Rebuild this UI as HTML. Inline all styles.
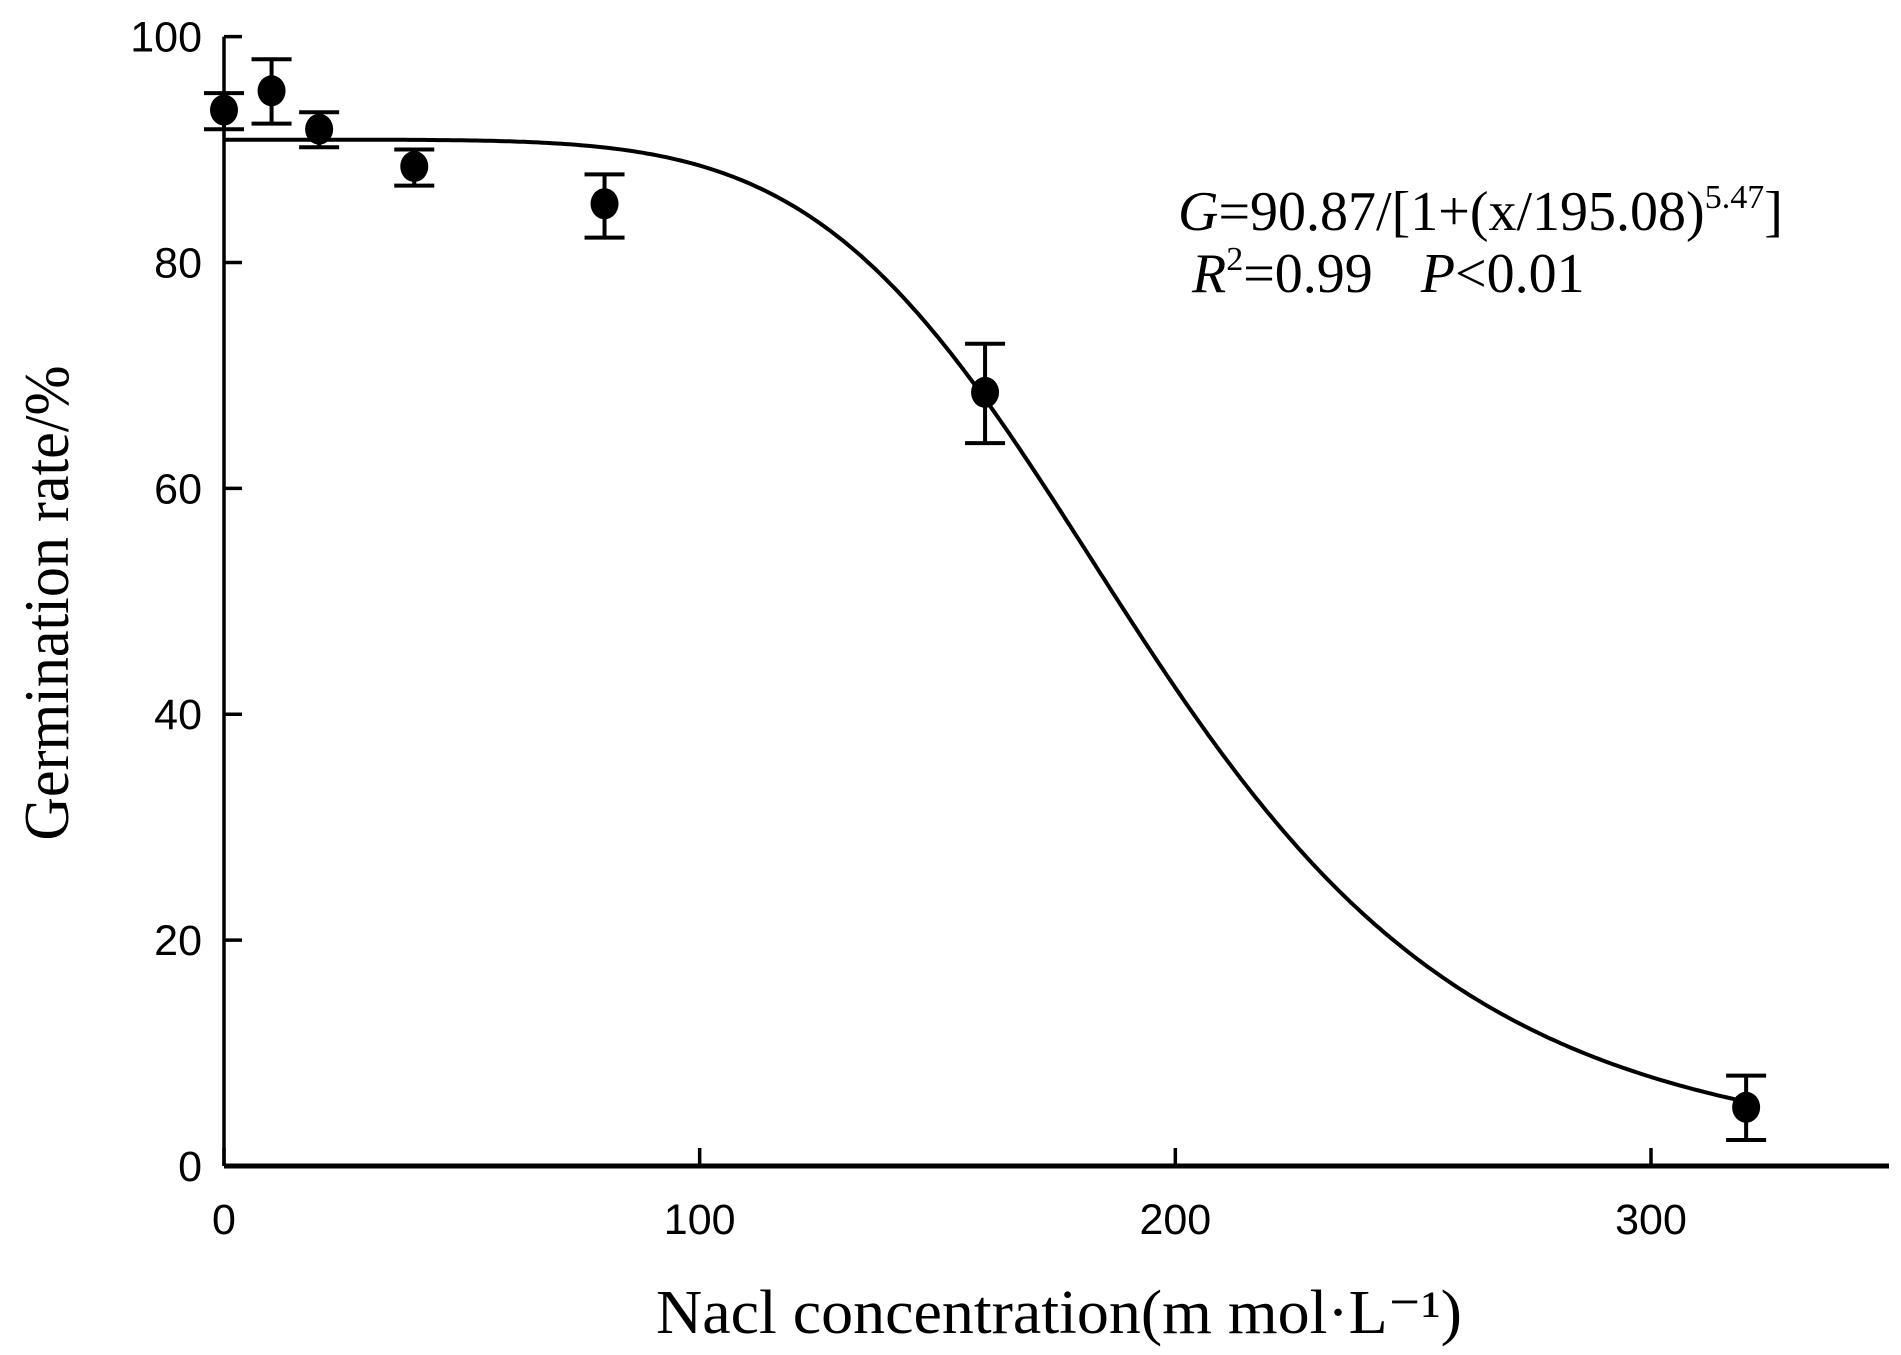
<!DOCTYPE html>
<html><head><meta charset="utf-8"><title>Germination rate vs NaCl</title>
<style>html,body{margin:0;padding:0;background:#fff;}svg{display:block;}</style></head>
<body>
<svg id="chart" width="1901" height="1355" viewBox="0 0 1901 1355" xmlns="http://www.w3.org/2000/svg">
<g id="axes"></g>
<g id="marks"></g>
<text x="1178" y="230" font-family="Liberation Serif, serif" font-size="56" fill="#000"><tspan font-style="italic">G</tspan>=90.87/[1+(x/195.08)<tspan dy="-22" font-size="34">5.47</tspan><tspan dy="22">]</tspan></text>
<text x="1192" y="292" font-family="Liberation Serif, serif" font-size="56" fill="#000"><tspan font-style="italic">R</tspan><tspan dy="-22" font-size="34">2</tspan><tspan dy="22">=0.99</tspan><tspan dx="48" font-style="italic">P</tspan>&lt;0.01</text>
<text x="656" y="1333" textLength="806" lengthAdjust="spacingAndGlyphs" font-family="Liberation Serif, serif" font-size="62" fill="#000">Nacl concentration(m mol·L⁻¹)</text>
<text transform="translate(68,603) rotate(-90)" text-anchor="middle" textLength="475" lengthAdjust="spacingAndGlyphs" font-family="Liberation Serif, serif" font-size="64" fill="#000">Germination rate/%</text>
</svg>
<script>
const xCats = [0, 10, 20, 40, 80, 160, 320];
const yMeans = [93.5, 95.2, 91.8, 88.5, 85.2, 68.5, 5.2];
const yLow = [91.8, 92.3, 90.2, 86.8, 82.2, 64.0, 2.3];
const yHigh = [95.0, 98.0, 93.3, 90.0, 87.8, 72.8, 8.0];
const xTicks = [0, 100, 200, 300];
const yTicks = [0, 20, 40, 60, 80, 100];
const fitA = 90.87, fitX0 = 195.08, fitB = 5.47;

const NS = 'http://www.w3.org/2000/svg';
const X0 = 224, XPX = (1651 - 224) / 300;
const Y0 = 1166, YPX = (1166 - 36.6) / 100;
const sx = v => X0 + v * XPX;
const sy = v => Y0 - v * YPX;
function mk(tag, attrs, parent) {
  const e = document.createElementNS(NS, tag);
  for (const k in attrs) e.setAttribute(k, attrs[k]);
  parent.appendChild(e);
  return e;
}
const axes = document.getElementById('axes');
const marks = document.getElementById('marks');

let el = mk('line', {x1: X0, y1: sy(100), x2: X0, y2: Y0, stroke: '#000', 'stroke-width': 3.5}, axes);


el = mk('line', {x1: X0, y1: Y0, x2: 1889, y2: Y0, stroke: '#000', 'stroke-width': 5}, axes);



yTicks.forEach(t => {
  const tk = mk('line', {x1: X0, y1: sy(t), x2: X0 + 18, y2: sy(t), stroke: '#000', 'stroke-width': 3.5}, axes);
  
  
  const lb = mk('text', {x: 202, y: sy(t) + 15, 'text-anchor': 'end', 'font-family': 'Liberation Sans, sans-serif', 'font-size': 43}, axes);
  lb.textContent = t;
  
  
});
xTicks.forEach(t => {
  const tk = mk('line', {x1: sx(t), y1: Y0, x2: sx(t), y2: Y0 - 18, stroke: '#000', 'stroke-width': 3.5}, axes);
  
  
  const lb = mk('text', {x: sx(t), y: 1234, 'text-anchor': 'middle', 'font-family': 'Liberation Sans, sans-serif', 'font-size': 43}, axes);
  lb.textContent = t;
  
  
});

let d = '';
for (let x = 0; x <= 320; x += 1) {
  const g = fitA / (1 + Math.pow(x / fitX0, fitB));
  d += (x === 0 ? 'M' : 'L') + sx(x).toFixed(1) + ',' + sy(g).toFixed(1);
}
el = mk('path', {d: d, fill: 'none', stroke: '#000', 'stroke-width': 4}, marks);



xCats.forEach((c, i) => {
  const x = sx(c);
  const eb = mk('path', {d: `M${x - 20},${sy(yHigh[i])}H${x + 20}M${x},${sy(yHigh[i])}V${sy(yLow[i])}M${x - 20},${sy(yLow[i])}H${x + 20}`, fill: 'none', stroke: '#000', 'stroke-width': 4}, marks);
  
  
  const p = mk('ellipse', {cx: x, cy: sy(yMeans[i]), rx: 14, ry: 15.5, fill: '#000'}, marks);
  
  
});
</script>
</body></html>
